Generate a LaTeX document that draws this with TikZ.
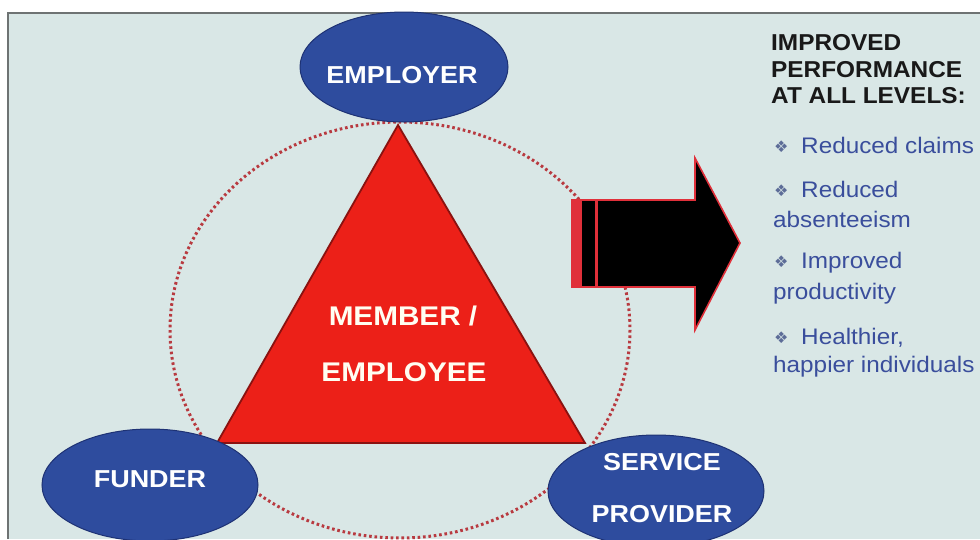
\documentclass[tikz,border=0pt]{standalone}
\usepackage{fontspec}
\setmainfont{Liberation Sans}
\newfontfamily\widefont{Liberation Sans}[FakeStretch=1.1]
\newfontfamily\itemfont{Liberation Sans}[FakeStretch=1.08]
\newfontfamily\titlefont{Liberation Sans}[FakeStretch=1.06]
\newfontfamily\symfont{DejaVu Sans}
\usetikzlibrary{shapes.geometric}
\definecolor{bgc}{HTML}{D9E7E6}
\definecolor{framec}{HTML}{6E7373}
\definecolor{ellc}{HTML}{2E4C9E}
\definecolor{elld}{HTML}{1E3274}
\definecolor{trif}{HTML}{EC2018}
\definecolor{trid}{HTML}{8A1210}
\definecolor{dotc}{HTML}{B83A40}
\definecolor{bluet}{HTML}{3A4E9C}
\definecolor{bullc}{HTML}{5D6D98}
\definecolor{arrr}{HTML}{E0303A}
\tikzset{
  party/.style={ellipse, fill=ellc, draw=elld, line width=1pt, inner sep=0pt},
  ptext/.style={text=white, font=\widefont\fontsize{24.5}{26}\selectfont\bfseries, inner sep=0pt},
  title/.style={anchor=base west, font=\titlefont\fontsize{23}{25}\selectfont\bfseries, text=black!90, inner sep=0pt},
  item/.style={anchor=base west, font=\itemfont\fontsize{22.5}{24}\selectfont, text=bluet, inner sep=0pt},
  bull/.style={anchor=base west, font=\symfont\fontsize{16}{17}\selectfont, text=bullc, inner sep=0pt},
  centre/.style={text=white!95!yellow, font=\widefont\fontsize{27}{29}\selectfont\bfseries, inner sep=0pt}
}
\begin{document}
\begin{tikzpicture}[x=1pt,y=-1pt]
\useasboundingbox (0,0) rectangle (980,539);
\fill[white] (0,0) rectangle (980,539);
\fill[bgc] (8,13) rectangle (980,539);
\draw[framec, line width=2pt] (8,539) -- (8,13) -- (980,13);
% dotted ring
\draw[dotc, line width=3pt, dash pattern=on 2.6pt off 2.8pt] (400,330) ellipse [x radius=230, y radius=208];
% triangle
\coordinate (ta) at (398,125);
\coordinate (tl) at (217,443);
\coordinate (tr) at (585,443);
\draw[fill=trif, draw=trid, line width=1.8pt, line join=miter] (ta) -- (tl) -- (tr) -- cycle;
\node[centre] (m1) at (403,316) {MEMBER /};
\node[centre] (m2) at (404,372) {EMPLOYEE};
% parties
\node[party, minimum width=208pt, minimum height=110pt] (emp) at (404,67) {};
\node[ptext] (empt) at (402,75) {EMPLOYER};
\node[party, minimum width=216pt, minimum height=112pt] (fun) at (150,485) {};
\node[ptext] (funt) at (150,479) {FUNDER};
\node[party, minimum width=216pt, minimum height=112pt] (srv) at (656,491) {};
\node[ptext] (srv1) at (662,462) {SERVICE};
\node[ptext] (srv2) at (662,514) {PROVIDER};
% arrow
\draw[fill=black, draw=arrr, line width=1.6pt, line join=miter]
  (572,200) -- (695,200) -- (695,158) -- (740,243) -- (695,330) -- (695,287) -- (572,287) -- cycle;
\fill[arrr] (573,200) rectangle (582,287);
\draw[arrr, line width=3pt] (596,201) -- (596,286);
% right-hand text
\node[title] (t1) at (771,50) {IMPROVED};
\node[title] (t2) at (771,77) {PERFORMANCE};
\node[title] (t3) at (771,103) {AT ALL LEVELS:};
\node[bull] (b1) at (774,152) {❖};
\node[item] (i1) at (801,153) {Reduced claims};
\node[bull] (b2) at (774,196) {❖};
\node[item] (i2) at (801,197) {Reduced};
\node[item] (i2b) at (773,227) {absenteeism};
\node[bull] (b3) at (774,267) {❖};
\node[item] (i3) at (801,268) {Improved};
\node[item] (i3b) at (773,299) {productivity};
\node[bull] (b4) at (774,343) {❖};
\node[item] (i4) at (801,344) {Healthier,};
\node[item] (i4b) at (773,372) {happier individuals};
\end{tikzpicture}
\end{document}
